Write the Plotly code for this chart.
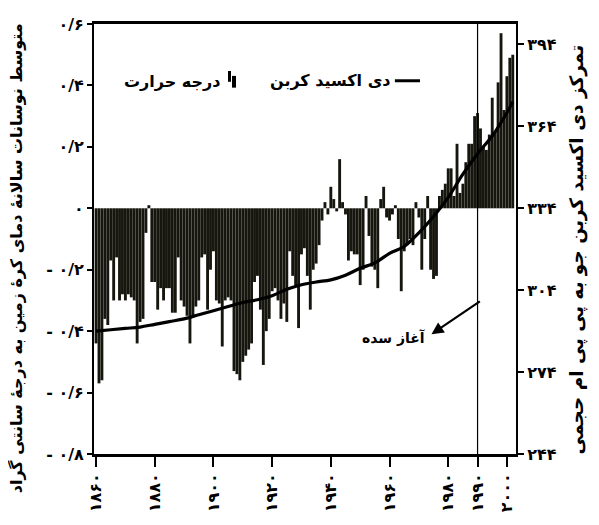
import plotly.graph_objects as go

# ---------------- data ----------------
years = list(range(1860, 2003))
temp_anomaly = [
    # 1860s
    -0.44, -0.57, -0.56, -0.36, -0.38, -0.17, -0.30, -0.16, -0.30, -0.28,
    # 1870s
    -0.30, -0.28, -0.29, -0.30, -0.44, -0.37, -0.36, -0.08, 0.01, -0.24,
    # 1880s
    -0.24, -0.33, -0.26, -0.30, -0.26, -0.26, -0.34, -0.34, -0.16, -0.30,
    # 1890s
    -0.32, -0.35, -0.44, -0.35, -0.32, -0.30, -0.16, -0.15, -0.33, -0.20,
    # 1900s
    -0.14, -0.30, -0.31, -0.45, -0.30, -0.29, -0.30, -0.53, -0.54, -0.56,
    # 1910s
    -0.50, -0.48, -0.46, -0.44, -0.24, -0.22, -0.33, -0.51, -0.40, -0.36,
    # 1920s
    -0.27, -0.26, -0.30, -0.36, -0.31, -0.37, -0.14, -0.22, -0.25, -0.39,
    # 1930s
    -0.15, -0.13, -0.22, -0.33, -0.20, -0.18, -0.12, -0.04, 0.02, -0.02,
    # 1940s
    0.07, 0.03, -0.01, 0.16, 0.02, -0.02, -0.17, -0.14, -0.15, -0.15,
    # 1950s
    -0.25, -0.20, 0.04, -0.09, -0.19, -0.20, -0.26, 0.03, 0.07, -0.03,
    # 1960s
    -0.04, -0.02, 0.01, -0.10, -0.27, -0.14, -0.12, -0.10, -0.12, 0.02,
    # 1970s
    -0.03, -0.20, -0.10, 0.04, -0.20, -0.23, -0.22, 0.04, 0.06, 0.08,
    # 1980s
    0.13, 0.13, 0.04, 0.21, 0.05, 0.08, 0.15, 0.21, 0.21, 0.30,
    # 1990s
    0.31, 0.26, 0.20, 0.19, 0.24, 0.36, 0.25, 0.41, 0.57, 0.32,
    # 2000s
    0.43, 0.49, 0.50,
]

co2_years = [1860, 1865, 1870, 1875, 1880, 1885, 1890, 1895, 1900, 1905,
             1910, 1915, 1920, 1925, 1930, 1935, 1940, 1945, 1950, 1955,
             1960, 1965, 1970, 1975, 1980, 1985, 1990, 1995, 2000, 2002]
co2_ppm = [289.0, 289.5, 290.0, 290.5, 291.5, 292.5, 293.5, 295.0, 296.5, 298.0,
           299.5, 300.5, 302.0, 304.3, 306.0, 307.0, 307.8, 309.5, 312.0, 314.0,
           317.5, 320.0, 325.0, 331.0, 338.0, 346.5, 354.0, 360.5, 369.0, 373.0]

x_tick_vals = [1860, 1880, 1900, 1920, 1940, 1960, 1980, 1990, 2000]
x_tick_text = ["۱۸۶۰", "۱۸۸۰", "۱۹۰۰", "۱۹۲۰", "۱۹۴۰", "۱۹۶۰", "۱۹۸۰", "۱۹۹۰", "۲۰۰۰"]
left_tick_vals = [0.6, 0.4, 0.2, 0, -0.2, -0.4, -0.6, -0.8]
left_tick_text = ["۰/۶", "۰/۴", "۰/۲", "۰", "- ۰/۲", "- ۰/۴", "- ۰/۶", "- ۰/۸"]
right_tick_vals = [394, 364, 334, 304, 274, 244]
right_tick_text = ["۳۹۴", "۳۶۴", "۳۳۴", "۳۰۴", "۲۷۴", "۲۴۴"]

marker_year = 1990
arrow_head = (1974.3, -0.41)
arrow_tail = (1991.3, -0.30)

left_title = "متوسط نوسانات سالانهٔ دمای کرهٔ زمین به درجهٔ سانتی گراد"
right_title = "تمرکز دی اکسید کربن جو به پی پی ام حجمی"
legend_temp = "درجه حرارت"
legend_co2 = "دی اکسید کربن"
note_text = "آغاز سده"

FONT = "DejaVu Sans"
BAR_COLOR = "#16160e"

# ---------------- figure ----------------
fig = go.Figure()
fig.add_trace(go.Bar(x=years, y=temp_anomaly, marker=dict(color=BAR_COLOR, line=dict(width=0)),
                     showlegend=False, yaxis="y"))
fig.add_trace(go.Scatter(x=co2_years, y=co2_ppm, mode="lines", line=dict(color="black", width=3.2, shape="spline"),
                         showlegend=False, yaxis="y2"))

fig.add_shape(type="line", xref="x", yref="paper", x0=marker_year, x1=marker_year, y0=0, y1=1,
              line=dict(color="black", width=1.2))

# legend icons (paper coords)
fig.add_shape(type="line", xref="paper", yref="paper", x0=0.713, x1=0.7725, y0=0.868, y1=0.868,
              line=dict(color="black", width=3))
fig.add_shape(type="rect", xref="paper", yref="paper", x0=0.3175, x1=0.3246, y0=0.8656, y1=0.8907,
              fillcolor="black", line=dict(width=0))
fig.add_shape(type="rect", xref="paper", yref="paper", x0=0.327, x1=0.3365, y0=0.852, y1=0.8793,
              fillcolor="black", line=dict(width=0))

bold16 = dict(family=FONT, size=16, color="black", weight="bold")
fig.add_annotation(xref="paper", yref="paper", x=0.3033, y=0.8656, text=legend_temp, showarrow=False,
                   xanchor="right", yanchor="middle", font=bold16)
fig.add_annotation(xref="paper", yref="paper", x=0.7085, y=0.868, text=legend_co2, showarrow=False,
                   xanchor="right", yanchor="middle", font=bold16)
fig.add_annotation(xref="paper", yref="paper", x=0.7915, y=0.271, text=note_text, showarrow=False,
                   xanchor="right", yanchor="middle",
                   font=dict(family=FONT, size=14, color="black", weight="bold"))
fig.add_annotation(xref="x", yref="y", x=arrow_head[0], y=arrow_head[1], axref="x", ayref="y",
                   ax=arrow_tail[0], ay=arrow_tail[1], text="", showarrow=True,
                   arrowhead=2, arrowsize=1.1, arrowwidth=2.2, arrowcolor="black")

# axis titles
fig.add_annotation(xref="paper", yref="paper", x=-0.185, y=0.455, text=left_title, showarrow=False,
                   textangle=-90, xanchor="center", yanchor="middle",
                   font=dict(family=FONT, size=16, color="black", weight="bold"))
fig.add_annotation(xref="paper", yref="paper", x=1.145, y=0.476, text=right_title, showarrow=False,
                   textangle=-90, xanchor="center", yanchor="middle",
                   font=dict(family=FONT, size=18.5, color="black", weight="bold"))

# page body has an 8px default margin, so the figure is 8px smaller than the window
fig.update_layout(
    width=591, height=517,
    margin=dict(l=86, r=83, t=7, b=71),
    paper_bgcolor="white", plot_bgcolor="white",
    bargap=0.02,
    xaxis=dict(range=[1859.3, 2003.1], tickvals=x_tick_vals, ticktext=x_tick_text, tickangle=-90,
               showline=True, linecolor="black", linewidth=2.5, mirror=True,
               ticks="outside", ticklen=10, tickwidth=1.5, tickcolor="black",
               showgrid=False, zeroline=False,
               tickfont=dict(family=FONT, size=16, color="black", weight="bold")),
    yaxis=dict(range=[-0.8, 0.6], tickvals=left_tick_vals, ticktext=left_tick_text,
               showline=True, linecolor="black", linewidth=2,
               ticks="outside", ticklen=5, tickwidth=1.5, tickcolor="black",
               showgrid=False, zeroline=False,
               tickfont=dict(family=FONT, size=16, color="black", weight="bold")),
    yaxis2=dict(range=[244, 401.5], overlaying="y", side="right", tickvals=right_tick_vals,
                ticktext=right_tick_text, showline=True, linecolor="black", linewidth=2,
                ticks="outside", ticklen=6, tickwidth=1.5, tickcolor="black",
                showgrid=False, zeroline=False,
                tickfont=dict(family=FONT, size=16, color="black", weight="bold")),
)

fig.write_html("out.html")
